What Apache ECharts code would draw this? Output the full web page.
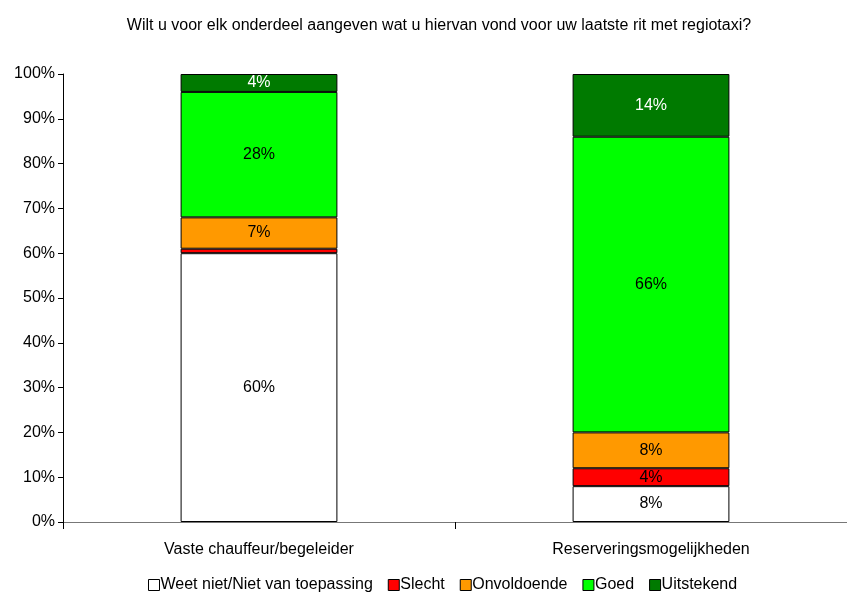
<!DOCTYPE html>
<html>
<head>
<meta charset="utf-8">
<script src="https://cdn.jsdelivr.net/npm/echarts@6/dist/echarts.min.js"></script>
<style>
  html, body { margin: 0; padding: 0; background: #fff; }
  #main { width: 847px; height: 595px; }
</style>
</head>
<body>
<div id="main"></div>
<script>
// categorieen en waarden (percentages)
var categories = ['Vaste chauffeur/begeleider', 'Reserveringsmogelijkheden'];
var weetNiet = [60, 8];
var slecht = [1, 4];
var onvoldoende = [7, 8];
var goed = [28, 66];
var uitstekend = [4, 14];
var yTicks = [0, 10, 20, 30, 40, 50, 60, 70, 80, 90, 100];

var FONT = 'Liberation Sans, Arial';
var chart = echarts.init(document.getElementById('main'));

function serie(name, data, color, labelColor) {
    return {
        name: name,
        type: 'bar',
        stack: 'totaal',
        barWidth: '40%',
        data: data,
        itemStyle: { color: color, borderColor: '#000', borderWidth: 1 },
        label: {
            show: true,
            position: 'inside',
            color: labelColor,
            fontFamily: FONT,
            fontSize: 16,
            formatter: function(p){ return p.value < 2 ? '' : p.value + '%'; }
        }
    };
}

var option = {
    animation: false,
    title: {
        text: 'Wilt u voor elk onderdeel aangeven wat u hiervan vond voor uw laatste rit met regiotaxi?',
        left: 434,
        textAlign: 'center',
        top: 13,
        textStyle: { fontFamily: FONT, fontSize: 16, fontWeight: 'normal', color: '#000' }
    },
    legend: {
        top: 572,
        left: 143,
        icon: 'rect',
        itemWidth: 11,
        itemHeight: 11,
        itemGap: 15,
        textStyle: { fontFamily: FONT, fontSize: 16, color: '#000', padding: [0, 0, 0, -4] },
        itemStyle: { borderColor: '#000', borderWidth: 1 },
        data: ['Weet niet/Niet van toepassing', 'Slecht', 'Onvoldoende', 'Goed', 'Uitstekend']
    },
    grid: { left: 63, top: 74, width: 794, height: 448 },
    xAxis: {
        type: 'category',
        data: categories,
        axisLine: { lineStyle: { color: '#777' } },
        axisTick: { show: true, interval: 0, length: 7, lineStyle: { color: '#000' } },
        axisLabel: { margin: 20, fontFamily: FONT, fontSize: 16, color: '#000' }
    },
    yAxis: {
        type: 'value',
        min: yTicks[0],
        max: yTicks[yTicks.length - 1],
        interval: 10,
        splitLine: { show: false },
        axisLine: { show: true, lineStyle: { color: '#000' } },
        axisTick: { show: true, inside: false, length: 5, lineStyle: { color: '#000' } },
        axisLabel: { formatter: '{value}%', margin: 8, fontFamily: FONT, fontSize: 16, color: '#000' }
    },
    series: [
        serie('Weet niet/Niet van toepassing', weetNiet, '#ffffff', '#000'),
        serie('Slecht', slecht, '#ff0000', '#000'),
        serie('Onvoldoende', onvoldoende, '#ff9900', '#000'),
        serie('Goed', goed, '#00ff00', '#000'),
        serie('Uitstekend', uitstekend, '#007a00', '#fff')
    ]
};
chart.setOption(option);
</script>
</body>
</html>
